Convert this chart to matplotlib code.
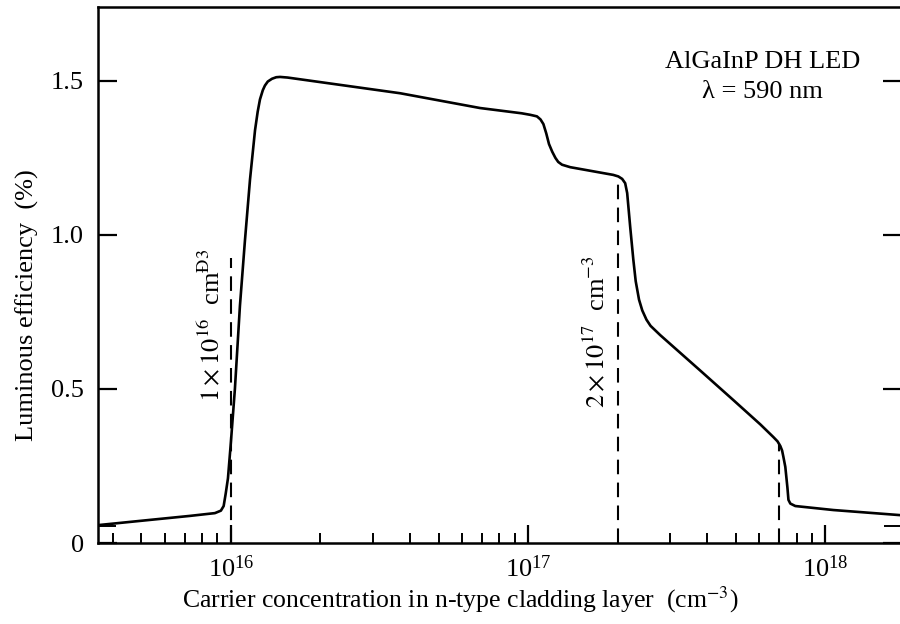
import matplotlib
matplotlib.use("Agg")
from matplotlib import pyplot as plt
from matplotlib.ticker import LogLocator, LogFormatterMathtext, NullFormatter
import numpy as np

plt.rcParams['font.family'] = 'serif'
plt.rcParams['font.serif'] = ['Liberation Serif', 'DejaVu Serif']
plt.rcParams['mathtext.fontset'] = 'stix'

# carrier concentration (cm^-3) and luminous efficiency (%)
conc = [3.57e15, 5.34e15, 7.28e15, 8.83e15, 9.25e15, 9.45e15, 9.6e15, 9.77e15,
        1.0e16, 1.031e16, 1.072e16, 1.114e16, 1.159e16, 1.205e16, 1.23e16,
        1.252e16, 1.28e16, 1.301e16, 1.33e16, 1.374e16, 1.42e16, 1.462e16,
        1.55e16, 3.71e16, 6.89e16, 9.5e16, 1.016e17, 1.07e17, 1.10e17,
        1.125e17, 1.15e17, 1.175e17, 1.205e17, 1.235e17, 1.262e17, 1.30e17,
        1.385e17, 1.932e17, 2.01e17, 2.071e17, 2.12e17, 2.153e17, 2.204e17,
        2.258e17, 2.30e17, 2.36e17, 2.42e17, 2.50e17, 2.58e17, 2.78e17,
        3.79e17, 4.90e17, 6.04e17, 6.68e17, 6.9e17, 7.05e17, 7.15e17,
        7.22e17, 7.33e17, 7.45e17, 7.51e17, 7.62e17, 7.92e17, 1.064e18, 1.81e18]
eff = [0.058, 0.075, 0.088, 0.097, 0.105, 0.12, 0.16, 0.21,
       0.33, 0.50, 0.77, 0.98, 1.18, 1.34, 1.40,
       1.44, 1.47, 1.485, 1.498, 1.507, 1.512, 1.513,
       1.511, 1.46, 1.412, 1.395, 1.39, 1.385, 1.375,
       1.36, 1.33, 1.295, 1.27, 1.25, 1.237, 1.228,
       1.22, 1.195, 1.19, 1.182, 1.168, 1.136, 1.026,
       0.92, 0.85, 0.79, 0.755, 0.725, 0.705, 0.675,
       0.56, 0.464, 0.385, 0.344, 0.33, 0.315, 0.30,
       0.28, 0.247, 0.18, 0.14, 0.128, 0.12, 0.107, 0.09]

# vertical markers: position and height they reach on the curve
mark_x = [1.0e16, 2.0e17, 7.0e17]
mark_top = [0.925, 1.19, 0.325]

yticks = [0, 0.5, 1.0, 1.5]
ytick_labels = ['0', '0.5', '1.0', '1.5']

fs = 19

fig = plt.figure(figsize=(9, 6.24), dpi=100)
ax = fig.add_axes([98 / 900, 1 - 543 / 624, 804 / 900, 536 / 624])

ax.plot(conc, eff, color='black', lw=1.9, zorder=3)
for xm, top in zip(mark_x, mark_top):
    ax.plot([xm, xm], [0, top], color='black', lw=1.5, dashes=(7, 4), zorder=2)

ax.set_xscale('log')
ax.set_xlim(3.57e15, 1.81e18)
ax.set_ylim(0, 1.74)

ax.xaxis.set_major_locator(LogLocator(base=10))
ax.xaxis.set_major_formatter(LogFormatterMathtext())
ax.xaxis.set_minor_locator(LogLocator(base=10, subs=np.arange(2, 10)))
ax.xaxis.set_minor_formatter(NullFormatter())

ax.set_yticks(yticks)
ax.set_yticklabels(ytick_labels)
ax.set_yticks([0.055], minor=True)

ax.tick_params(axis='both', which='major', direction='in', labelsize=fs, width=1.6, color='black')
ax.tick_params(axis='x', which='major', length=13, pad=9, top=False)
ax.tick_params(axis='x', which='minor', direction='in', length=7, width=1.4, top=False)
ax.tick_params(axis='y', which='major', length=14, pad=10, right=True)
ax.tick_params(axis='y', which='minor', direction='in', length=13, width=1.4, right=True)

for s in ax.spines.values():
    s.set_linewidth(1.8)

ax.set_xlabel('Carrier concentration in n-type cladding layer  (cm$^{-3}$)', fontsize=18.5)
ax.xaxis.set_label_coords(0.45, -0.077)
ax.set_ylabel('Luminous efficiency  (%)', fontsize=fs)
ax.yaxis.set_label_coords(-0.074, 0.444)

ax.text(8.57e15, 0.708, r'$1\times10^{16}$  cm$^{\mathrm{Ð3}}$', rotation=90,
        ha='center', va='center', fontsize=fs)
ax.text(1.694e17, 0.685, r'$2\times10^{17}$  cm$^{-3}$', rotation=90,
        ha='center', va='center', fontsize=fs)

ax.text(6.14e17, 1.562, 'AlGaInP DH LED', ha='center', va='center', fontsize=fs)
ax.text(6.14e17, 1.464, 'λ = 590 nm', ha='center', va='center', fontsize=fs)

fig.savefig('out.png', dpi=100)
